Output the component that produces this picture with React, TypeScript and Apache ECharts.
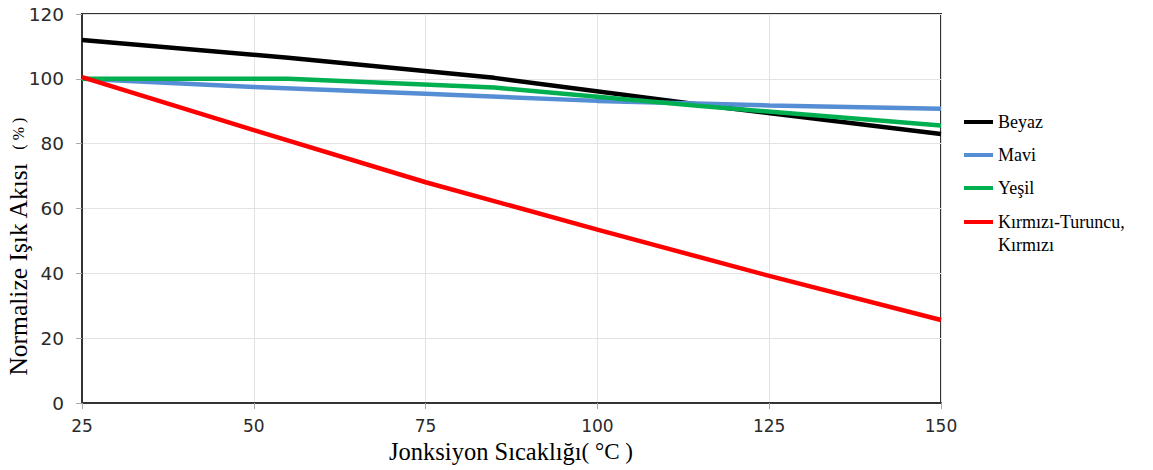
import React, { useEffect, useRef } from "react";
import * as echarts from "echarts";

const seriesNames = ["Beyaz", "Mavi", "Yeşil", "Kırmızı-Turuncu,\nKırmızı"];
const colors = ["#000000", "#558ED5", "#00B050", "#FF0000"];

const beyaz: [number, number][] = [[25, 112], [55, 106.5], [85, 100.3], [115, 92], [150, 83]];
const mavi: [number, number][] = [[25, 100], [50, 97.5], [75, 95.4], [100, 93.2], [125, 91.8], [150, 90.8]];
const yesil: [number, number][] = [[25, 100], [55, 100], [85, 97.3], [115, 91.6], [150, 85.6]];
const kirmizi: [number, number][] = [[25, 100.5], [50, 84.2], [75, 68.1], [100, 53.5], [125, 39.2], [150, 25.6]];

const xTicks = { min: 25, max: 150, interval: 25 };
const yTicks = { min: 0, max: 120, interval: 20 };

export default function App() {
  const ref = useRef<HTMLDivElement>(null);
  useEffect(() => {
    if (!ref.current) return;
    const chart = echarts.init(ref.current, null, { renderer: "svg" });
    const data = [beyaz, mavi, yesil, kirmizi];
    const legendBase = {
      orient: "vertical",
      left: 964,
      padding: 0,
      icon: "rect",
      itemWidth: 29,
      itemHeight: 4,
      itemGap: 13,
    };
    chart.setOption({
      animation: false,
      backgroundColor: "#ffffff",
      grid: { left: 82, right: 212, top: 14, bottom: 67, show: true, borderColor: "#333333", borderWidth: 2 },
      xAxis: {
        type: "value",
        ...xTicks,
        axisLine: { show: true, lineStyle: { color: "#333333", width: 2 } },
        axisTick: { show: true, length: 6, lineStyle: { color: "#aaaaaa" } },
        axisLabel: { margin: 14, fontSize: 17, fontFamily: "DejaVu Sans", color: "#2a2a2a" },
        splitLine: { show: true, lineStyle: { color: "#e3e3e3", width: 1 } },
      },
      yAxis: {
        type: "value",
        ...yTicks,
        axisLine: { show: true, lineStyle: { color: "#333333", width: 2 } },
        axisTick: { show: true, length: 6, lineStyle: { color: "#aaaaaa" } },
        axisLabel: { margin: 18, fontSize: 18.5, fontFamily: "DejaVu Sans", color: "#2a2a2a" },
        splitLine: { show: true, lineStyle: { color: "#e3e3e3", width: 1 } },
      },
      legend: [
        {
          ...legendBase,
          top: 112,
          data: seriesNames.slice(0, 3),
          textStyle: { fontFamily: "Liberation Serif", fontSize: 18, lineHeight: 20, color: "#000000" },
        },
        {
          ...legendBase,
          top: 187.5,
          data: seriesNames.slice(3),
          formatter: (name: string) => "\n" + name,
          textStyle: { fontFamily: "Liberation Serif", fontSize: 18, lineHeight: 23, color: "#000000" },
        },
      ],
      series: seriesNames.map((name, i) => ({
        name,
        type: "line",
        data: data[i],
        symbol: "none",
        lineStyle: { color: colors[i], width: 4.5 },
        itemStyle: { color: colors[i] },
      })),
      graphic: [
        {
          type: "text",
          x: 511,
          y: 451,
          style: {
            text: "Jonksiyon Sıcaklığı{s|( °C )}",
            font: "24.5px 'Liberation Serif'",
            fill: "#000000",
            align: "center",
            verticalAlign: "middle",
            rich: { s: { fontSize: 23, fontFamily: "Liberation Serif", fill: "#000000" } },
          },
        },
        {
          type: "text",
          x: 18,
          y: 247,
          rotation: Math.PI / 2,
          style: {
            text: "Normalize Işık Akısı  {s|( % )}",
            font: "25.5px 'Liberation Serif'",
            fill: "#000000",
            align: "center",
            verticalAlign: "middle",
            rich: { s: { fontSize: 16, fontFamily: "Liberation Serif", fill: "#000000" } },
          },
        },
      ],
    });
    return () => chart.dispose();
  }, []);
  return <div ref={ref} style={{ width: 1153, height: 470, position: "absolute", left: 0, top: 0 }} />;
}
